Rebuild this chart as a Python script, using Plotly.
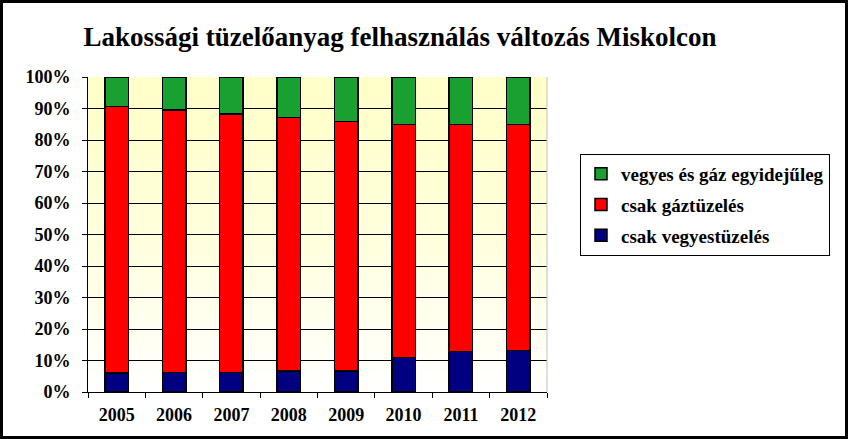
import base64
import plotly.graph_objects as go

years = ["2005", "2006", "2007", "2008", "2009", "2010", "2011", "2012"]
csak_vegyes = [6.0, 6.2, 6.2, 6.6, 6.6, 10.9, 12.9, 13.1]
csak_gaz = [84.6, 83.4, 82.1, 80.5, 79.2, 74.0, 72.0, 71.8]
vegyes_es_gaz = [9.4, 10.4, 11.7, 12.9, 14.2, 15.1, 15.1, 15.1]

names = ["csak vegyestüzelés", "csak gáztüzelés", "vegyes és gáz egyidejűleg"]
colors = ["#000080", "#FF0000", "#18A030"]
series = [csak_vegyes, csak_gaz, vegyes_es_gaz]

W, H = 848, 439
L, R, T, B = 88, 301, 77, 47
pw, ph = W - L - R, H - T - B

FAM = "Liberation Serif"

fig = go.Figure()
for i, (n, c, v) in enumerate(zip(names, colors, series)):
    fig.add_trace(go.Bar(
        x=years, y=v, name=n, legendgroup=f"g{i}", legendrank=3 - i,
        marker=dict(color=c, line=dict(color="black", width=1.5)),
    ))

svg = ('<svg xmlns="http://www.w3.org/2000/svg" width="10" height="100" preserveAspectRatio="none">'
       '<defs><linearGradient id="g" x1="0" y1="0" x2="0" y2="1">'
       '<stop offset="0" stop-color="#FFFFC8"/><stop offset="0.5" stop-color="#FFFFDC"/>'
       '<stop offset="1" stop-color="#FFFFFF"/></linearGradient></defs>'
       '<rect width="10" height="100" fill="url(#g)"/></svg>')
src = "data:image/svg+xml;base64," + base64.b64encode(svg.encode()).decode()

fig.update_layout(
    width=W, height=H,
    margin=dict(l=L, r=R, t=T, b=B),
    barmode="stack",
    bargap=0.59,
    paper_bgcolor="white",
    plot_bgcolor="rgba(0,0,0,0)",
    font=dict(family=FAM, color="black", weight="bold"),
    title=dict(
        text="Lakossági tüzelőanyag felhasználás változás Miskolcon",
        font=dict(size=27, family=FAM, color="black", weight="bold"),
        x=400 / W, xanchor="center", y=1 - 37 / H, yanchor="middle",
    ),
    legend=dict(
        x=(580 - L) / pw, xanchor="left",
        y=(H - B - 154) / ph, yanchor="top",
        bordercolor="black", borderwidth=1,
        bgcolor="white",
        traceorder="grouped",
        tracegroupgap=3,
        font=dict(size=19, family=FAM, color="black", weight="bold"),
        entrywidth=265, entrywidthmode="pixels",
        itemwidth=30,
    ),
    images=[dict(source=src, xref="paper", yref="paper", x=0, y=1,
                 sizex=1, sizey=1, sizing="stretch", layer="below")],
    shapes=[
        dict(type="line", xref="paper", yref="paper", x0=1, x1=1, y0=0, y1=1,
             line=dict(color="#C0C0C0", width=1)),
        dict(type="rect", xref="paper", yref="paper",
             x0=(-L + 1.5) / pw, x1=(W - L - 1.5) / pw,
             y0=(-B + 1.5) / ph, y1=(H - B - 1.5) / ph,
             line=dict(color="black", width=3)),
    ],
)

fig.update_yaxes(
    range=[0, 100], dtick=10, ticksuffix="%",
    showgrid=True, gridcolor="black", gridwidth=1,
    showline=True, linecolor="black", linewidth=1,
    ticks="outside", ticklen=5, tickcolor="black",
    tickfont=dict(size=18, family=FAM, color="black", weight="bold"),
    ticklabelstandoff=8,
    zeroline=False,
)
fig.update_xaxes(
    type="category", tickson="boundaries",
    showgrid=False,
    showline=True, linecolor="black", linewidth=1,
    ticks="outside", ticklen=5, tickcolor="black",
    tickfont=dict(size=18, family=FAM, color="black", weight="bold"),
    ticklabelstandoff=6,
)

fig.write_html("out.html")
